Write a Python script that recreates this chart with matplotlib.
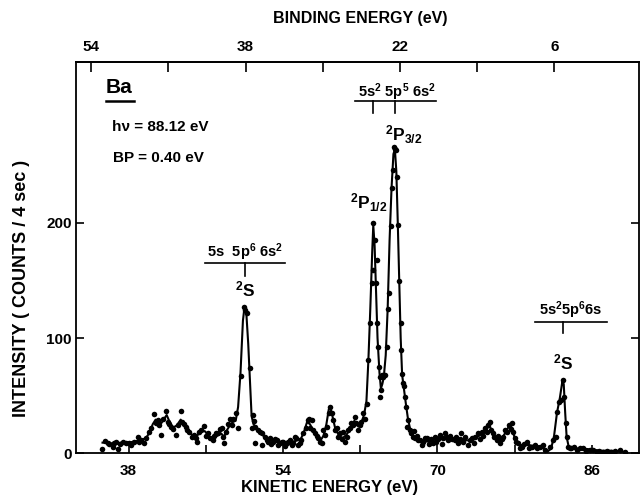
import matplotlib
matplotlib.use("Agg")
import matplotlib.pyplot as plt

plt.rcParams['font.family'] = ['Liberation Sans', 'DejaVu Sans']
plt.rcParams['font.weight'] = 'bold'
plt.rcParams['mathtext.fontset'] = 'custom'
plt.rcParams['mathtext.rm'] = 'Liberation Sans:bold'
plt.rcParams['mathtext.it'] = 'Liberation Sans:bold'
plt.rcParams['mathtext.bf'] = 'Liberation Sans:bold'

PHOTON = 88.12

# measured points: kinetic energy (eV), counts / 4 sec
ke_pts = [35.25, 35.6, 35.9, 36.0, 36.35, 36.5, 36.7, 36.9, 37.1, 37.4, 37.7, 38.07, 38.3, 38.6, 38.94,
          39.1, 39.3, 39.6, 39.8, 40.1, 40.3, 40.6, 40.8, 41.0, 41.2, 41.36, 41.6, 41.9, 42.05, 42.2,
          42.4, 42.6, 42.9, 43.1, 43.4, 43.5, 43.7, 43.9, 44.1, 44.3, 44.6, 44.8, 45.0, 45.1, 45.3,
          45.5, 45.8, 46.0, 46.2, 46.4, 46.7, 46.9, 47.1, 47.3, 47.5, 47.65, 47.75, 47.9, 48.1, 48.3,
          48.5, 48.7, 48.85, 49.1, 49.3, 49.65, 50.0, 50.1, 50.24, 50.58, 50.75, 50.9, 51.0, 51.1, 51.15,
          51.4, 51.6, 51.8, 51.85, 52.1, 52.3, 52.5, 52.65, 52.8, 53.0, 53.2, 53.35, 53.5, 53.7, 53.9,
          54.0, 54.2, 54.4, 54.55, 54.7, 54.9, 55.07, 55.25, 55.4, 55.6, 55.75, 55.9, 56.1, 56.35, 56.55,
          56.7, 56.8, 56.97, 57.1, 57.3, 57.5, 57.65, 57.85, 58.0, 58.2, 58.35, 58.6, 58.75, 58.87, 59.05,
          59.2, 59.4, 59.55, 59.67, 59.9, 60.1, 60.25, 60.4, 60.6, 60.77, 60.9, 61.1, 61.3, 61.45, 61.6,
          61.8, 61.95, 62.1, 62.3, 62.5, 62.67, 62.84, 63.0, 63.2, 63.3, 63.36, 63.5, 63.6, 63.7, 63.75,
          63.86, 63.95, 64.05, 64.1, 64.2, 64.3, 64.4, 64.55, 64.75, 64.9, 65.0, 65.16, 65.3, 65.43, 65.5,
          65.6, 65.67, 65.8, 65.95, 66.05, 66.2, 66.25, 66.3, 66.47, 66.55, 66.65, 66.8, 66.85, 67.0, 67.16,
          67.3, 67.45, 67.55, 67.7, 67.85, 68.0, 68.2, 68.4, 68.55, 68.7, 68.9, 69.1, 69.3, 69.5, 69.75,
          69.9, 70.1, 70.3, 70.5, 70.6, 70.8, 70.95, 71.1, 71.3, 71.5, 71.8, 71.95, 72.1, 72.3, 72.5,
          72.7, 72.9, 73.2, 73.35, 73.55, 73.75, 73.9, 74.2, 74.4, 74.6, 74.75, 74.9, 75.1, 75.3, 75.45,
          75.6, 75.75, 75.9, 76.15, 76.3, 76.5, 76.7, 76.85, 77.0, 77.2, 77.45, 77.6, 77.7, 77.86, 78.0,
          78.2, 78.4, 78.6, 78.75, 79.0, 79.25, 79.5, 79.8, 80.1, 80.3, 80.6, 80.9, 81.15, 81.7, 82.0,
          82.3, 82.35, 82.6, 82.8, 83.05, 83.15, 83.3, 83.4, 83.55, 83.7, 83.9, 84.2, 84.5, 84.8, 85.1,
          85.4, 85.8, 86.1, 86.5, 86.8, 87.2, 87.6, 88.0, 88.4, 88.9, 89.4]
counts_pts = [3.5, 10.7, 9, 7.8, 5, 9, 9.8, 3.5, 8, 9.8, 9, 9, 7, 9.8, 14,
              10, 11, 8.4, 12.7, 18.5, 22, 33.6, 25.8, 28.7, 24, 15.6, 30, 36.8, 27, 25,
              23, 21, 15.6, 24, 36.8, 27, 25, 23, 20, 18.5, 14, 16, 12.7, 10, 18.5,
              20, 23.5, 15, 17, 13, 11, 15, 17, 17, 20.6, 21.5, 14, 8.4, 18, 25,
              30, 24, 30, 34.5, 21.5, 67, 127, 124, 121.5, 73.6, 21.5, 33, 28, 23, 8.4,
              20, 18.5, 17, 7, 14, 11, 10, 12.7, 8, 9.8, 12, 11, 7, 8.4, 10,
              9.8, 6, 8.4, 10, 11, 7, 8.4, 14, 12.7, 7, 9, 11, 17, 21.5, 28.7,
              30, 21.5, 28.7, 20, 17, 15, 12.7, 10, 8.4, 20, 15.6, 23, 35, 40, 34.5,
              28.7, 20, 22, 14, 17, 12, 18.5, 9.8, 14, 20, 22, 25.8, 24, 31.6, 26,
              20, 24, 27, 34.5, 30, 43, 81, 112.8, 147.5, 159, 199.7, 185, 147.5, 168, 112.8,
              92.5, 75, 66, 49, 55, 68, 66, 68, 92.5, 125, 139, 197, 230, 246, 266,
              264, 263.5, 240, 198, 150, 112.8, 90, 69, 60.6, 58, 49, 40, 23, 28.7, 20,
              17, 14, 19, 12.7, 15, 11, 11, 7, 10, 12.7, 12.7, 8, 12, 9, 14,
              10, 12, 15.6, 8, 13, 17, 14, 11, 15, 12, 11, 14, 8.4, 12, 17,
              10, 14, 7, 11, 12.7, 9, 14, 17, 12, 18.5, 15, 21.5, 18, 24, 27,
              20, 17, 14, 11, 15, 8.4, 12, 14, 20, 18.5, 24, 21, 25.8, 18.5, 12.7,
              10, 8.4, 4, 5.5, 8, 9.8, 4, 5.5, 7, 4, 5.5, 7, 2.6, 5.5, 11,
              14, 36, 44.6, 46, 63.5, 49, 25.8, 14, 5.5, 4, 4, 5, 3, 4, 4,
              2, 2.6, 3, 1, 2, 1, 2, 1, 2, 2.6, 1]

# hand-drawn smooth curve through the points
ke_curve = [35.3, 35.8, 36.5, 37.2, 38.0, 38.6, 39.2, 39.8, 40.2, 40.5, 40.8, 41.1, 41.4, 41.7, 41.95,
            42.2, 42.6, 43.0, 43.4, 43.8, 44.3, 44.8, 45.1, 45.5, 45.9, 46.3, 46.7, 47.2, 47.6, 47.9,
            48.2, 48.5, 48.8, 49.1, 49.35, 49.6, 49.85, 50.0, 50.2, 50.4, 50.6, 50.75, 50.95, 51.3, 51.7,
            52.1, 52.6, 53.2, 53.8, 54.5, 55.1, 55.5, 55.9, 56.2, 56.5, 56.8, 57.1, 57.5, 57.9, 58.2,
            58.5, 58.75, 58.9, 59.1, 59.4, 59.8, 60.2, 60.6, 61.0, 61.4, 61.8, 62.1, 62.4, 62.65, 62.85,
            63.05, 63.25, 63.36, 63.5, 63.65, 63.8, 64.0, 64.15, 64.3, 64.45, 64.65, 64.85, 65.05, 65.25, 65.45,
            65.6, 65.75, 65.9, 66.05, 66.2, 66.35, 66.55, 66.75, 66.95, 67.2, 67.5, 67.9, 68.5, 69.0, 69.5,
            70.0, 70.5, 71.0, 71.5, 72.0, 72.5, 73.0, 73.5, 74.0, 74.5, 75.0, 75.4, 75.7, 76.0, 76.4,
            76.8, 77.2, 77.55, 77.8, 78.1, 78.5, 79.0, 79.5, 80.0, 80.5, 81.0, 81.4, 81.8, 82.1, 82.4,
            82.7, 82.95, 83.1, 83.25, 83.4, 83.6, 84.0, 85.0, 86.0, 87.0, 88.0, 89.4]
counts_curve = [9, 9, 8, 9, 9, 10, 11, 13, 18, 25, 29, 28, 26, 30, 33,
                28, 22, 24, 29, 24, 18, 14, 15, 19, 19, 15, 12, 15, 17, 14,
                20, 24, 27, 28, 40, 70, 115, 126, 122, 95, 60, 32, 25, 21, 17,
                14, 12, 10, 9, 9, 10, 11, 13, 19, 27, 25, 20, 15, 11, 15,
                25, 38, 40, 33, 22, 15, 13, 16, 22, 28, 23, 26, 33, 45, 80,
                125, 175, 198, 180, 140, 100, 70, 56, 60, 66, 85, 125, 185, 230, 260,
                264, 245, 200, 150, 100, 68, 55, 42, 30, 20, 14, 11, 10, 10, 11,
                12, 12, 12, 12, 11, 12, 11, 11, 13, 16, 20, 24, 18, 12, 11,
                14, 20, 25, 19, 11, 7, 7, 7, 6, 6, 4, 1, 4, 15, 35,
                48, 62, 60, 35, 14, 6, 4, 4, 3, 2, 2, 1]

ke_ticks = [38, 54, 70, 86]
ke_minor = [46, 62, 78]
be_ticks = [54, 38, 22, 6]
be_minor = [46, 30, 14]
y_ticks = [0, 100, 200]

W, H = 643, 498
fig = plt.figure(figsize=(W / 100, H / 100), dpi=100)
ax = fig.add_axes([76 / W, (H - 453) / H, (639 - 76) / W, (453 - 62) / H])
ax.set_xlim(32.55, 90.9)
ax.set_ylim(0, 340)

ax.plot(ke_curve, counts_curve, color='black', lw=1.5, zorder=2)
ax.plot(ke_pts, counts_pts, 'o', color='black', ms=4.0, mew=0, zorder=3)

for s in ax.spines.values():
    s.set_linewidth(1.3)

ax.set_xticks(ke_ticks)
ax.set_xticks(ke_minor, minor=True)
ax.set_yticks(y_ticks)
ax.tick_params(axis='both', which='both', direction='in', length=6, width=1.2,
               labelsize=11, top=False, right=True)
ax.tick_params(axis='x', which='major', pad=8)
ax.tick_params(axis='y', which='major', pad=3)
for lab in ax.get_xticklabels() + ax.get_yticklabels():
    lab.set_fontweight('bold')

sec = ax.secondary_xaxis('top', functions=(lambda k: PHOTON - k, lambda b: PHOTON - b))
sec.set_xticks(be_ticks)
sec.set_xticks(be_minor, minor=True)
sec.tick_params(axis='x', which='both', direction='in', length=7, width=1.2,
                labelsize=11, pad=6)
sec.spines['top'].set_linewidth(1.3)
for lab in sec.get_xticklabels():
    lab.set_fontweight('bold')

fig.text(360 / W, 1 - 18 / H, 'BINDING ENERGY (eV)', ha='center', va='center',
         fontsize=11.5, fontweight='bold')
fig.text(330 / W, 1 - 487 / H, 'KINETIC ENERGY (eV)', ha='center', va='center',
         fontsize=12, fontweight='bold')
fig.text(22 / W, 1 - 288 / H, 'INTENSITY ( COUNTS / 4 sec )', ha='center', va='center',
         rotation=90, fontsize=13, fontweight='bold')

# sample annotations
ax.text(35.65, 318, 'Ba', fontsize=15, fontweight='bold', ha='left', va='center')
ax.plot([35.65, 38.6], [306, 306], color='black', lw=1.8)
ax.text(36.3, 283.5, 'hν = 88.12 eV', fontsize=11, fontweight='bold', ha='left', va='center')
ax.text(36.4, 256.5, 'BP = 0.40 eV', fontsize=11, fontweight='bold', ha='left', va='center')

# configuration labels
ax.text(65.8, 314, r'$\mathregular{5s^2\ 5p^5\ 6s^2}$', fontsize=10.5, ha='center', va='center')
ax.plot([61.5, 69.9], [306, 306], color='black', lw=1.2)
ax.plot([63.36, 63.36], [306, 296], color='black', lw=1.2)
ax.plot([65.6, 65.6], [306, 296], color='black', lw=1.2)
ax.text(64.55, 277, r'$\mathregular{^2P_{3/2}}$', fontsize=12.5, ha='left', va='center')
ax.text(60.9, 218, r'$\mathregular{^2P_{1/2}}$', fontsize=12.5, ha='left', va='center')

ax.text(50.06, 175, r'$\mathregular{5s\ \ 5p^6\ 6s^2}$', fontsize=10.5, ha='center', va='center')
ax.plot([45.9, 54.2], [165, 165], color='black', lw=1.2)
ax.plot([50.1, 50.1], [165, 154], color='black', lw=1.2)
ax.text(50.1, 142, r'$\mathregular{^2S}$', fontsize=12.5, ha='center', va='center')

ax.text(83.85, 124, r'$\mathregular{5s^25p^66s}$', fontsize=10.5, ha='center', va='center')
ax.plot([80.1, 87.6], [114, 114], color='black', lw=1.2)
ax.plot([83.05, 83.05], [114, 104], color='black', lw=1.2)
ax.text(83.0, 79, r'$\mathregular{^2S}$', fontsize=12.5, ha='center', va='center')

fig.savefig('out.png', dpi=100)
